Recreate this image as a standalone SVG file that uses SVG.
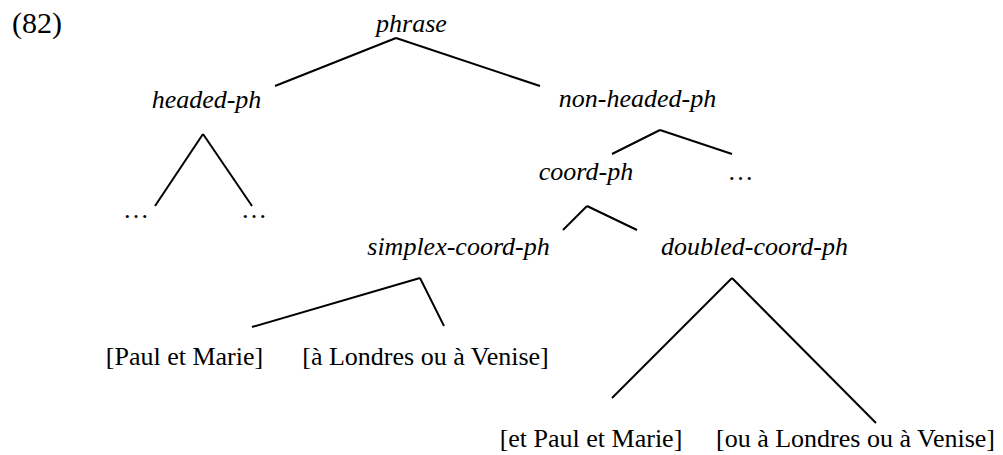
<svg xmlns="http://www.w3.org/2000/svg" width="1003" height="455" viewBox="0 0 1003 455">
<style>
text{font-family:"Liberation Serif","Times New Roman",serif;font-size:26px;fill:#000;text-anchor:middle}
.i{font-style:italic}
.e line{stroke:#000;stroke-width:2;stroke-linecap:butt}
</style>
<rect width="1003" height="455" fill="#fff"/>
<text x="12" y="33" style="text-anchor:start;font-size:30px">(82)</text>
<g id="phrase"><text class="i" x="411.5" y="32">phrase</text></g>
<g id="headed-ph"><text class="i" x="206.5" y="108">headed-ph</text></g>
<g id="non-headed-ph"><text class="i" x="637.5" y="107">non-headed-ph</text></g>
<g id="dots1"><text x="136" y="218">…</text></g>
<g id="dots2"><text x="254" y="218">…</text></g>
<g id="coord-ph"><text class="i" x="586" y="180">coord-ph</text></g>
<g id="dots3"><text x="740.5" y="180">…</text></g>
<g id="simplex-coord-ph"><text class="i" x="458.5" y="255">simplex-coord-ph</text></g>
<g id="doubled-coord-ph"><text class="i" x="754.5" y="255">doubled-coord-ph</text></g>
<g id="paul-marie"><text x="184.5" y="365">[Paul et Marie]</text></g>
<g id="londres-venise"><text x="425.5" y="365">[à Londres ou à Venise]</text></g>
<g id="et-paul-marie"><text x="591" y="447">[et Paul et Marie]</text></g>
<g id="ou-londres-venise"><text x="855.5" y="447">[ou à Londres ou à Venise]</text></g>
<g class="e" id="edges">
<line x1="396" y1="38" x2="275" y2="86"/>
<line x1="396" y1="38" x2="540" y2="86"/>
<line x1="203" y1="134" x2="155" y2="206"/>
<line x1="203" y1="134" x2="252" y2="206"/>
<line x1="660" y1="130" x2="612" y2="154"/>
<line x1="660" y1="130" x2="732" y2="154"/>
<line x1="587" y1="206" x2="563" y2="230"/>
<line x1="587" y1="206" x2="637" y2="230"/>
<line x1="420" y1="278" x2="252" y2="327"/>
<line x1="420" y1="278" x2="444" y2="326"/>
<line x1="732" y1="278" x2="612" y2="398"/>
<line x1="732" y1="278" x2="876" y2="423"/>
</g>
</svg>
